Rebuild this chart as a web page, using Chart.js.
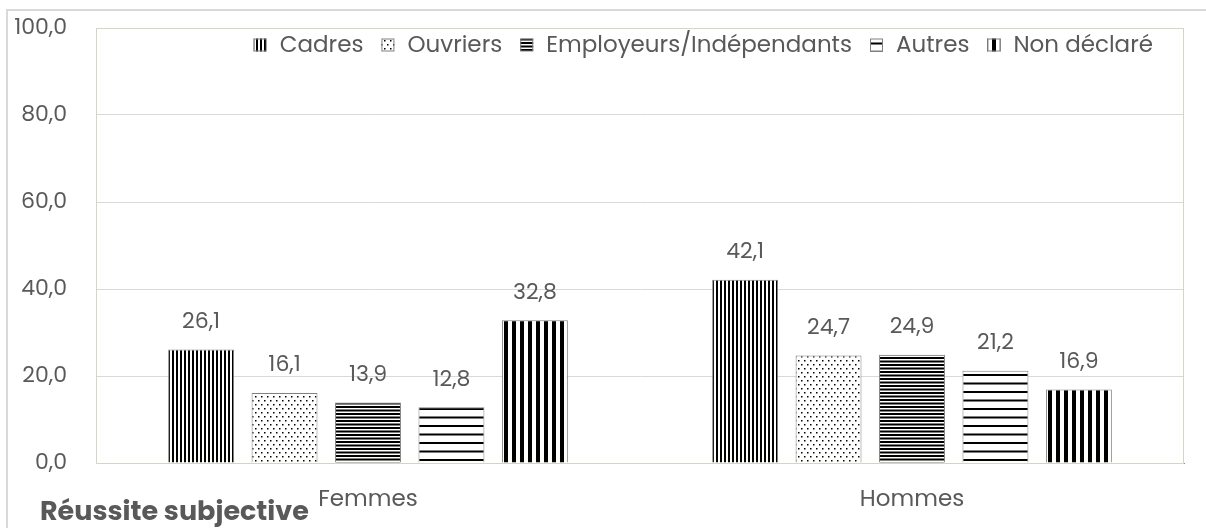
<!DOCTYPE html>
<html>
<head>
<meta charset="utf-8">
<script src="https://cdn.jsdelivr.net/npm/chart.js@4.4.1/dist/chart.umd.min.js"></script>
<style>
  html, body { margin: 0; padding: 0; background: #fff; }
  #wrap { position: relative; width: 1206px; height: 528px; overflow: hidden; }
  #frame { position: absolute; left: 6px; top: 9px; width: 1220px; height: 540px; border: 2px solid #d9d9d9; box-sizing: border-box; }
  #title { position: absolute; left: 40px; top: 494px; font: bold 27px Poppins, Inter, sans-serif; color: #595959; line-height: 34px; }
</style>
</head>
<body>
<div id="wrap">
  <div id="frame"></div>
  <canvas id="chart" width="1206" height="528"></canvas>
  <div id="title">Réussite subjective</div>
</div>
<script>
const categories = ['Femmes', 'Hommes'];
const seriesNames = ['Cadres', 'Ouvriers', 'Employeurs/Indépendants', 'Autres', 'Non déclaré'];
const cadres = [26.1, 42.1];
const ouvriers = [16.1, 24.7];
const employeurs = [13.9, 24.9];
const autres = [12.8, 21.2];
const nonDeclare = [32.8, 16.9];
const yTicks = [0, 20, 40, 60, 80, 100];

const FONT = 'Poppins, Inter, sans-serif';
const TEXT = '#595959';

function makePattern(w, h, draw) {
  const c = document.createElement('canvas');
  c.width = w; c.height = h;
  const g = c.getContext('2d');
  g.fillStyle = '#fff';
  g.fillRect(0, 0, w, h);
  g.fillStyle = '#000';
  draw(g);
  return document.getElementById('chart').getContext('2d').createPattern(c, 'repeat');
}

const patterns = [
  makePattern(4, 4, g => g.fillRect(0, 0, 2, 4)),
  makePattern(6, 8, g => { g.fillRect(0, 0, 1.5, 1.5); g.fillRect(3, 4, 1.5, 1.5); }),
  makePattern(7, 7, g => { g.fillRect(0, 0, 7, 2); g.fillRect(0, 3.5, 7, 2); }),
  makePattern(17, 17, g => { g.fillRect(0, 0, 17, 2); g.fillRect(0, 8.5, 17, 2); }),
  makePattern(8, 8, g => g.fillRect(0, 0, 4, 8))
];

const values = [cadres, ouvriers, employeurs, autres, nonDeclare];
const fmt = v => v.toFixed(1).replace('.', ',');

const valueLabels = {
  id: 'valueLabels',
  afterDatasetsDraw(chart) {
    const ctx = chart.ctx;
    ctx.save();
    ctx.font = '22px ' + FONT;
    ctx.fillStyle = TEXT;
    ctx.textAlign = 'center';
    ctx.textBaseline = 'middle';
    chart.data.datasets.forEach((ds, i) => {
      chart.getDatasetMeta(i).data.forEach((el, j) => {
        ctx.fillText(fmt(ds.data[j]), el.x, el.y - 27);
      });
    });
    ctx.restore();
  }
};

// legend drawn inside the plot, top right, one row
const innerLegend = {
  id: 'innerLegend',
  afterDatasetsDraw(chart) {
    const ctx = chart.ctx;
    const box = 13, gapText = 13, gapItem = 18, yMid = 45;
    ctx.save();
    ctx.font = '23px ' + FONT;
    ctx.textBaseline = 'middle';
    const items = chart.data.datasets.map(ds => ({ ds, w: box + gapText + ctx.measureText(ds.label).width }));
    const total = items.reduce((s, it) => s + it.w, 0) + gapItem * (items.length - 1);
    let x = 1153 - total;
    items.forEach(it => {
      ctx.fillStyle = it.ds.backgroundColor;
      ctx.fillRect(x, yMid - box / 2, box, box);
      ctx.strokeStyle = '#808080';
      ctx.lineWidth = 1;
      ctx.strokeRect(x + 0.5, yMid - box / 2 + 0.5, box - 1, box - 1);
      ctx.fillStyle = TEXT;
      ctx.fillText(it.ds.label, x + box + gapText, yMid + 1);
      x += it.w + gapItem;
    });
    ctx.restore();
  }
};

const plotFrame = {
  id: 'plotFrame',
  beforeDatasetsDraw(chart) {
    const a = chart.chartArea, ctx = chart.ctx;
    ctx.save();
    ctx.strokeStyle = '#d6d4c8';
    ctx.lineWidth = 1;
    ctx.strokeRect(a.left + 0.5, a.top + 0.5, a.right - a.left - 1, a.bottom - a.top);
    ctx.restore();
  }
};

new Chart(document.getElementById('chart'), {
  type: 'bar',
  data: {
    labels: categories,
    datasets: seriesNames.map((name, i) => ({
      label: name,
      data: values[i],
      backgroundColor: patterns[i],
      borderColor: '#808080',
      borderWidth: 1,
      barPercentage: 0.79,
      categoryPercentage: 0.767
    }))
  },
  options: {
    responsive: false,
    animation: false,
    layout: { padding: { left: 0, right: 22, top: 28, bottom: 0 } },
    plugins: {
      legend: { display: false },
      tooltip: { enabled: false }
    },
    scales: {
      x: {
        grid: { display: false },
        border: { color: '#898989' },
        ticks: { color: TEXT, padding: 15, font: { family: FONT, size: 23 } },
        afterFit(s) { s.height = 65; s.paddingLeft = 0; s.paddingRight = 0; }
      },
      y: {
        min: 0,
        max: 100,
        afterBuildTicks(s) { s.ticks = yTicks.map(v => ({ value: v })); },
        grid: { color: '#d9d9d9', drawTicks: false },
        border: { color: '#898989' },
        ticks: { color: TEXT, padding: 29, font: { family: FONT, size: 22 }, callback: v => fmt(v) },
        afterFit(s) { s.width = 96; s.paddingTop = 0; s.paddingBottom = 0; }
      }
    }
  },
  plugins: [plotFrame, valueLabels, innerLegend]
});
</script>
</body>
</html>
